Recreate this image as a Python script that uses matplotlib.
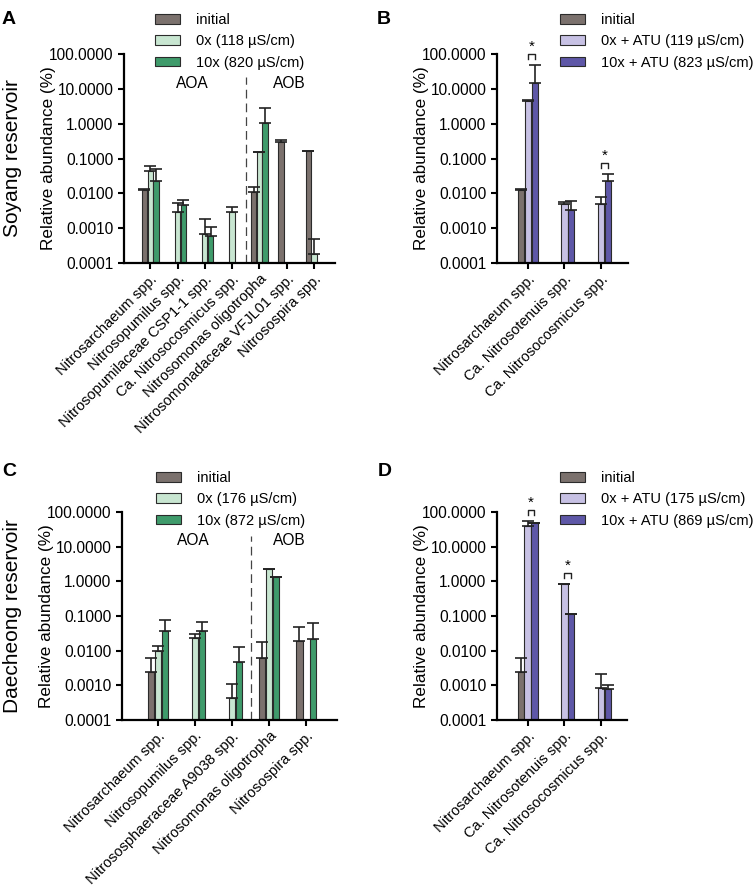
import numpy as np
import matplotlib
matplotlib.use("Agg")
import matplotlib.pyplot as plt
from matplotlib.patches import Patch

plt.rcParams['font.family'] = ['Liberation Sans', 'DejaVu Sans']

# ---------------- data ----------------
cats_A = ["Nitrosarchaeum spp.", "Nitrosopumilus spp.", "Nitrosopumilaceae CSP1-1 spp.",
          "Ca. Nitrosocosmicus spp.", "Nitrosomonas oligotropha",
          "Nitrosomonadaceae VFJL01 spp.", "Nitrosospira spp."]
A_initial = [0.0121, None, None, None, 0.0106, 0.307, 0.159]
A_initial_err = [0.0016, None, None, None, 0.0048, 0.023, 0.006]
A_0x = [0.0443, 0.0029, 0.00068, 0.00296, 0.149, None, 0.00018]
A_0x_err = [0.015, 0.0025, 0.0011, 0.0012, 0.003, None, 0.00031]
A_10x = [0.0229, 0.0046, 0.00059, None, 1.076, None, None]
A_10x_err = [0.026, 0.0018, 0.00051, None, 1.69, None, None]
labels_A = ["initial", "0x (118 \u00b5S/cm)", "10x (820 \u00b5S/cm)"]

cats_B = ["Nitrosarchaeum spp.", "Ca. Nitrosotenuis spp.", "Ca. Nitrosocosmicus spp."]
B_initial = [0.0121, None, None]
B_initial_err = [0.0016, None, None]
B_0x = [4.59, 0.00502, 0.0050]
B_0x_err = [0.1, 0.0007, 0.0031]
B_10x = [15.0, 0.00338, 0.0229]
B_10x_err = [34.0, 0.0027, 0.0135]
B_sig = [0, 2]
labels_B = ["initial", "0x + ATU (119 \u00b5S/cm)", "10x + ATU (823 \u00b5S/cm)"]

cats_C = ["Nitrosarchaeum spp.", "Nitrosopumilus spp.", "Nitrososphaeraceae A9038 spp.",
          "Nitrosomonas oligotropha", "Nitrosospira spp."]
C_initial = [0.00236, None, None, 0.0060, 0.0193]
C_initial_err = [0.0038, None, None, 0.0116, 0.0274]
C_0x = [0.0099, 0.0235, 0.00042, 2.23, None]
C_0x_err = [0.0036, 0.0065, 0.00069, 0.02, None]
C_10x = [0.0366, 0.0374, 0.00479, 1.34, 0.022]
C_10x_err = [0.041, 0.0286, 0.0081, 0.02, 0.039]
labels_C = ["initial", "0x (176 \u00b5S/cm)", "10x (872 \u00b5S/cm)"]

cats_D = ["Nitrosarchaeum spp.", "Ca. Nitrosotenuis spp.", "Ca. Nitrosocosmicus spp."]
D_initial = [0.00238, None, None]
D_initial_err = [0.0039, None, None]
D_0x = [38.5, 0.83, 0.00082]
D_0x_err = [17.5, 0.02, 0.00136]
D_10x = [49.2, 0.1155, 0.00077]
D_10x_err = [0.3, 0.0015, 0.00023]
D_sig = [0, 1]
labels_D = ["initial", "0x + ATU (175 \u00b5S/cm)", "10x + ATU (869 \u00b5S/cm)"]

yticks = [0.0001, 0.001, 0.01, 0.1, 1, 10, 100]

# ---------------- style ----------------
c_init = '#7b716d'
c_g0 = '#c8e6d1'
c_g10 = '#3f9b6b'
c_p0 = '#c7c1e4'
c_p10 = '#5e57a7'
edge = '#2b2b2b'

W, H = 755, 886
fig = plt.figure(figsize=(W / 100, H / 100), dpi=100)


def px_axes(l, t, r, b):
    return fig.add_axes([l / W, 1 - b / H, (r - l) / W, (b - t) / H])


def draw_panel(ax, cats, series, errs, colors, width, xlim):
    x = np.arange(len(cats))
    offs = [-width, 0, width]
    for s, e, c, o in zip(series, errs, colors, offs):
        idx = [i for i, v in enumerate(s) if v is not None]
        xs = x[idx] + o
        vals = [s[i] for i in idx]
        ers = [e[i] for i in idx]
        ax.bar(xs, vals, width=width * 0.92, bottom=0, color=c, edgecolor=edge,
               linewidth=0.8, zorder=2)
        ax.errorbar(xs, vals, yerr=[np.zeros(len(ers)), ers], fmt='none',
                    ecolor='#222222', elinewidth=1.2, capsize=4, capthick=1.2, zorder=3)
    ax.set_yscale('log')
    ax.set_ylim(1e-4, 100)
    ax.set_xlim(*xlim)
    ax.set_yticks(yticks)
    ax.set_yticklabels(['%.4f' % v for v in yticks])
    ax.minorticks_off()
    ax.set_xticks(x)
    ax.set_xticklabels(cats, rotation=45, ha='right', va='top',
                       rotation_mode='anchor')
    for sp in ['top', 'right']:
        ax.spines[sp].set_visible(False)
    for sp in ['left', 'bottom']:
        ax.spines[sp].set_linewidth(1.6)
    ax.tick_params(axis='y', length=4.5, width=1.5, labelsize=11.2, pad=3)
    ax.tick_params(axis='x', length=4.5, width=1.5, labelsize=10.5, pad=2.0)
    return x


def sig_bracket(ax, i, width, tops):
    x0, x1 = i, i + width
    yb = tops * 1.5
    yt = yb * 1.4
    ax.plot([x0, x0, x1, x1], [yb, yt, yt, yb], color='#222222', lw=1.0,
            clip_on=False, zorder=4)
    ax.text((x0 + x1) / 2, yt * 1.0, '*', ha='center', va='bottom', fontsize=11,
            clip_on=False)


def add_legend(handles_colors, labels, x, y):
    hs = [Patch(facecolor=c, edgecolor=edge, linewidth=0.8) for c in handles_colors]
    fig.legend(hs, labels, loc='upper left', bbox_to_anchor=(x / W, 1 - y / H),
               frameon=False, fontsize=10.5, handlelength=1.7, handleheight=0.62,
               handletextpad=1.1, labelspacing=0.5, borderpad=0, borderaxespad=0)


# ---------------- Panel A ----------------
axA = px_axes(124, 54, 335, 263)
draw_panel(axA, cats_A, [A_initial, A_0x, A_10x], [A_initial_err, A_0x_err, A_10x_err],
           [c_init, c_g0, c_g10], 0.21, (-0.96, 6.77))
axA.plot([3.5, 3.5], [1e-4, 22], ls=(0, (7, 4)), color='#444444', lw=0.9, zorder=1)
axA.text(1.53, 14.0, 'AOA', ha='center', va='center', fontsize=11.2)
axA.text(5.08, 14.0, 'AOB', ha='center', va='center', fontsize=11.2)
add_legend([c_init, c_g0, c_g10], labels_A, 155, 13)

# ---------------- Panel B ----------------
axB = px_axes(497, 54, 628, 263)
wB = 0.185
draw_panel(axB, cats_B, [B_initial, B_0x, B_10x], [B_initial_err, B_0x_err, B_10x_err],
           [c_init, c_p0, c_p10], wB, (-0.845, 2.736))
for i in B_sig:
    sig_bracket(axB, i, wB, max(B_0x[i] + B_0x_err[i], B_10x[i] + B_10x_err[i]))
add_legend([c_init, c_p0, c_p10], labels_B, 560, 13)

# ---------------- Panel C ----------------
axC = px_axes(122, 512, 337, 720)
draw_panel(axC, cats_C, [C_initial, C_0x, C_10x], [C_initial_err, C_0x_err, C_10x_err],
           [c_init, c_g0, c_g10], 0.185, (-0.97, 4.83))
axC.plot([2.5, 2.5], [1e-4, 20], ls=(0, (7, 4)), color='#444444', lw=0.9, zorder=1)
axC.text(0.96, 15.0, 'AOA', ha='center', va='center', fontsize=11.2)
axC.text(3.55, 15.0, 'AOB', ha='center', va='center', fontsize=11.2)
add_legend([c_init, c_g0, c_g10], labels_C, 156, 471)

# ---------------- Panel D ----------------
axD = px_axes(497, 512, 627, 720)
wD = 0.185
draw_panel(axD, cats_D, [D_initial, D_0x, D_10x], [D_initial_err, D_0x_err, D_10x_err],
           [c_init, c_p0, c_p10], wD, (-0.83, 2.70))
for i in D_sig:
    sig_bracket(axD, i, wD, max(D_0x[i] + D_0x_err[i], D_10x[i] + D_10x_err[i]))
add_legend([c_init, c_p0, c_p10], labels_D, 560, 471)

# ---------------- text ----------------
for ax_, yc in [(axA, 158.5), (axB, 158.5), (axC, 616), (axD, 616)]:
    pos = ax_.get_position()
    xl = pos.x0 * W - 75
    fig.text(xl / W, 1 - yc / H, 'Relative abundance (%)', rotation=90,
             ha='center', va='center', fontsize=12.3)

fig.text(13 / W, 1 - 158 / H, 'Soyang reservoir', rotation=90, ha='center',
         va='center', fontsize=15)
fig.text(13 / W, 1 - 616 / H, 'Daecheong reservoir', rotation=90, ha='center',
         va='center', fontsize=15)

for lab, x, y in [('A', 2, 19), ('B', 377, 19), ('C', 2, 472), ('D', 378, 472)]:
    fig.text(x / W, 1 - y / H, lab, fontsize=14, fontweight='bold', ha='left',
             va='center')

fig.savefig('out.png', dpi=100)
